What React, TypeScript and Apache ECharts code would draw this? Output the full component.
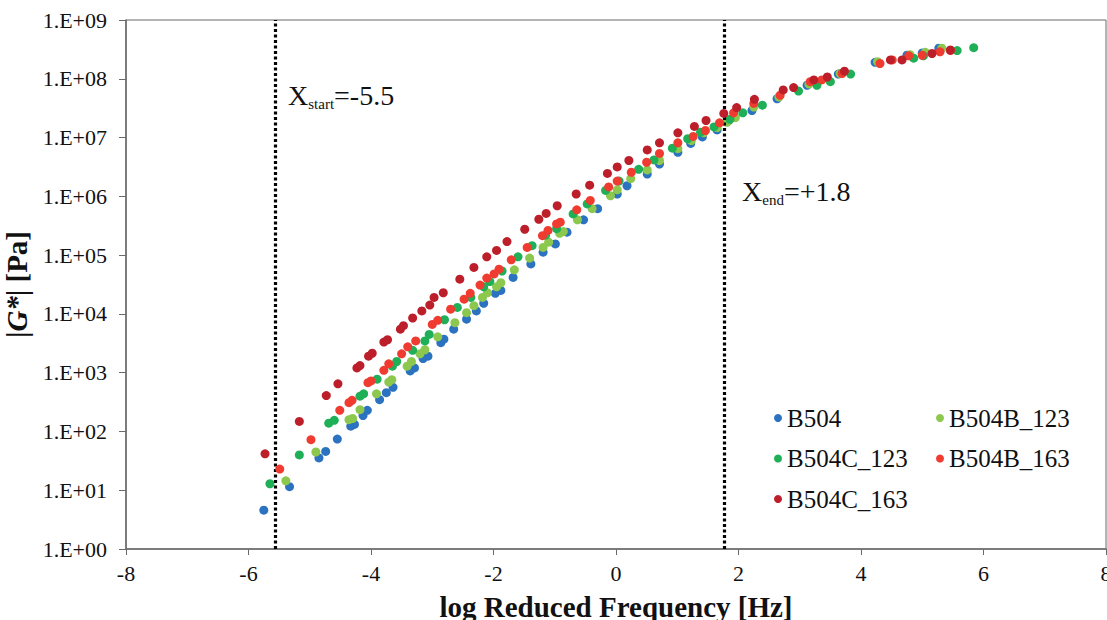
import { useEffect, useRef } from "react";
import * as echarts from "echarts";

// Each point: [log reduced frequency (Hz), log10 of |G*| (Pa)]
const seriesNames = ["B504", "B504B_123", "B504C_123", "B504B_163", "B504C_163"];
const seriesColors = ["#2B72C0", "#8CC84E", "#1FAF57", "#EF3B30", "#BC1F2A"];

const b504 = [
  [-5.75, 0.66], [-5.33, 1.06], [-4.85, 1.55], [-4.74, 1.66], [-4.55, 1.87], [-4.33, 2.09], [-4.27, 2.12],
  [-4.13, 2.27], [-4.06, 2.36], [-3.86, 2.54], [-3.75, 2.66], [-3.64, 2.75], [-3.36, 3.03], [-3.29, 3.08],
  [-3.15, 3.24], [-3.07, 3.28], [-2.86, 3.51], [-2.81, 3.57], [-2.65, 3.74], [-2.44, 3.91], [-2.28, 4.05],
  [-2.16, 4.18], [-1.97, 4.35], [-1.88, 4.4], [-1.68, 4.62], [-1.39, 4.85], [-1.19, 5.05], [-0.99, 5.19],
  [-0.8, 5.39], [-0.53, 5.6], [-0.3, 5.79], [0.02, 6.04], [0.18, 6.18], [0.51, 6.38], [0.71, 6.55],
  [1.01, 6.75], [1.22, 6.9], [1.41, 7.01], [1.65, 7.13], [1.84, 7.29], [2.22, 7.46], [2.63, 7.66],
  [3.12, 7.89], [3.63, 8.08], [4.23, 8.28], [4.75, 8.4], [5.0, 8.44], [5.27, 8.52],
];
const b504B123 = [
  [-5.39, 1.16], [-4.9, 1.65], [-4.36, 2.2], [-4.3, 2.22], [-4.18, 2.37], [-3.91, 2.64], [-3.71, 2.84],
  [-3.66, 2.88], [-3.41, 3.11], [-3.34, 3.19], [-3.2, 3.32], [-3.12, 3.39], [-2.91, 3.61], [-2.63, 3.85],
  [-2.44, 4.02], [-2.32, 4.14], [-2.18, 4.28], [-2.1, 4.36], [-1.95, 4.46], [-1.88, 4.53], [-1.66, 4.75],
  [-1.41, 4.95], [-1.19, 5.13], [-1.1, 5.22], [-0.92, 5.37], [-0.86, 5.4], [-0.63, 5.6], [-0.39, 5.79],
  [-0.09, 6.01], [0.02, 6.11], [0.24, 6.3], [0.51, 6.45], [0.71, 6.61], [1.01, 6.81], [1.23, 6.95],
  [1.43, 7.08], [1.65, 7.17], [1.81, 7.26], [1.95, 7.34], [2.25, 7.52], [2.66, 7.69], [3.15, 7.91],
  [3.66, 8.09], [4.27, 8.29], [4.8, 8.41], [5.05, 8.45], [5.32, 8.52],
];
const b504C123 = [
  [-5.65, 1.11], [-5.17, 1.6], [-4.69, 2.14], [-4.6, 2.19], [-4.18, 2.6], [-4.12, 2.64], [-3.9, 2.89],
  [-3.65, 3.11], [-3.58, 3.19], [-3.32, 3.38], [-3.12, 3.54], [-3.05, 3.65], [-2.8, 3.9], [-2.59, 4.11],
  [-2.37, 4.28], [-2.16, 4.46], [-2.06, 4.55], [-1.86, 4.73], [-1.6, 4.97], [-1.37, 5.16], [-1.15, 5.34],
  [-0.97, 5.45], [-0.7, 5.7], [-0.47, 5.87], [-0.17, 6.1], [0.05, 6.26], [0.37, 6.46], [0.62, 6.62],
  [0.92, 6.82], [1.17, 6.98], [1.38, 7.09], [1.6, 7.18], [1.86, 7.31], [2.07, 7.42], [2.39, 7.55],
  [2.98, 7.79], [3.28, 7.89], [3.5, 7.95], [3.83, 8.08], [4.86, 8.35], [5.02, 8.39], [5.57, 8.48], [5.84, 8.53],
];
const b504B163 = [
  [-5.49, 1.36], [-4.98, 1.86], [-4.51, 2.36], [-4.36, 2.49], [-4.31, 2.53], [-4.05, 2.83], [-4.0, 2.86],
  [-3.79, 3.04], [-3.71, 3.15], [-3.5, 3.32], [-3.4, 3.44], [-3.27, 3.54], [-3.0, 3.82], [-2.91, 3.89],
  [-2.7, 4.08], [-2.48, 4.25], [-2.38, 4.35], [-2.22, 4.49], [-2.11, 4.61], [-1.99, 4.68], [-1.91, 4.76],
  [-1.71, 4.92], [-1.45, 5.13], [-1.2, 5.33], [-1.11, 5.42], [-0.97, 5.53], [-0.91, 5.56], [-0.64, 5.77],
  [-0.42, 5.93], [-0.12, 6.16], [0.02, 6.26], [0.25, 6.41], [0.5, 6.58], [0.71, 6.73], [1.01, 6.91],
  [1.26, 7.02], [1.46, 7.12], [1.69, 7.25], [1.92, 7.42], [2.25, 7.58], [2.68, 7.72], [3.17, 7.95],
  [3.36, 7.98], [3.69, 8.09], [4.31, 8.26], [4.51, 8.32], [4.78, 8.39], [5.0, 8.4], [5.29, 8.46], [5.46, 8.48],
];
const b504C163 = [
  [-5.73, 1.62], [-5.17, 2.17], [-4.73, 2.61], [-4.54, 2.81], [-4.23, 3.08], [-4.18, 3.12], [-4.04, 3.28],
  [-3.98, 3.33], [-3.79, 3.52], [-3.73, 3.56], [-3.52, 3.74], [-3.47, 3.8], [-3.32, 3.93], [-3.17, 4.05],
  [-3.04, 4.15], [-2.97, 4.28], [-2.82, 4.36], [-2.55, 4.59], [-2.32, 4.79], [-2.11, 4.97], [-1.95, 5.08],
  [-1.78, 5.23], [-1.49, 5.44], [-1.26, 5.61], [-1.14, 5.71], [-0.96, 5.84], [-0.65, 6.04], [-0.43, 6.19],
  [-0.14, 6.39], [0.02, 6.5], [0.21, 6.61], [0.51, 6.79], [0.71, 6.91], [1.01, 7.08], [1.28, 7.19],
  [1.47, 7.29], [1.76, 7.41], [1.97, 7.51], [2.26, 7.65], [2.73, 7.81], [2.9, 7.85], [3.23, 7.98],
  [3.45, 8.03], [3.73, 8.13], [4.48, 8.32], [4.67, 8.32], [5.16, 8.43], [5.46, 8.49],
];
const seriesData = [b504, b504B123, b504C123, b504B163, b504C163];

const xMin = -8;
const xMax = 8;
const xStep = 2;
const yMinExp = 0;
const yMaxExp = 9;
const xStartLine = -5.57;
const xEndLine = 1.77;

const FONT = "'Liberation Serif', 'Times New Roman', serif";

export default function App() {
  const ref = useRef<HTMLDivElement>(null);
  useEffect(() => {
    if (!ref.current) return;
    const chart = echarts.init(ref.current, undefined, { renderer: "svg" });
    const axisColor = "#6a6a6a";
    const series: any[] = seriesNames.map((name, i) => ({
      name,
      type: "scatter",
      symbol: "circle",
      symbolSize: 9,
      itemStyle: { color: seriesColors[i], opacity: 1 },
      data: seriesData[i].map(([x, e]) => [x, Math.pow(10, e)]),
      z: 2 + i,
    }));
    series[0].markLine = {
      silent: true,
      symbol: ["none", "none"],
      label: { show: false },
      lineStyle: { color: "#000", type: [3, 2.5], width: 3.2 },
      data: [{ xAxis: xStartLine }, { xAxis: xEndLine }],
    };
    const legendText = { fontFamily: FONT, fontSize: 25, color: "#111", lineHeight: 28, padding: [0, 0, 0, 0] };
    chart.setOption({
      animation: false,
      backgroundColor: "#fff",
      textStyle: { fontFamily: FONT },
      grid: {
        left: 126,
        right: 1,
        top: 20,
        bottom: 71,
        show: true,
        borderColor: axisColor,
        borderWidth: 1,
        containLabel: false,
        outerBoundsMode: "none",
      },
      legend: [
        {
          data: [seriesNames[0], seriesNames[2], seriesNames[4]],
          orient: "vertical",
          left: 769,
          top: 399,
          itemWidth: 8,
          itemHeight: 8,
          itemGap: 12.5,
          icon: "circle",
          textStyle: legendText,
        },
        {
          data: [seriesNames[1], seriesNames[3]],
          orient: "vertical",
          left: 931,
          top: 399,
          itemWidth: 8,
          itemHeight: 8,
          itemGap: 12.5,
          icon: "circle",
          textStyle: legendText,
        },
      ],
      xAxis: {
        type: "value",
        min: xMin,
        max: xMax,
        interval: xStep,
        name: "log Reduced Frequency [Hz]",
        nameLocation: "middle",
        nameGap: 43,
        nameTextStyle: { fontFamily: FONT, fontSize: 29, fontWeight: "bold", color: "#111" },
        axisLine: { show: true, onZero: false, lineStyle: { color: axisColor, width: 1.5 } },
        axisTick: { show: true, inside: false, length: 6, lineStyle: { color: axisColor } },
        axisLabel: { fontFamily: FONT, fontSize: 22, color: "#111", margin: 13 },
        splitLine: { show: false },
      },
      yAxis: {
        type: "log",
        logBase: 10,
        min: Math.pow(10, yMinExp),
        max: Math.pow(10, yMaxExp),
        interval: 1,
        name: "|{i|G*}| [Pa]",
        nameLocation: "middle",
        nameGap: 86,
        nameRotate: 90,
        nameTextStyle: {
          fontFamily: FONT,
          fontSize: 29,
          fontWeight: "bold",
          color: "#111",
          rich: { i: { fontFamily: FONT, fontSize: 29, fontWeight: "bold", fontStyle: "italic", color: "#111" } },
        },
        axisLine: { show: true, onZero: false, lineStyle: { color: axisColor, width: 1.5 } },
        axisTick: { show: true, inside: false, length: 7, lineStyle: { color: axisColor } },
        axisLabel: {
          fontFamily: FONT,
          fontSize: 22,
          color: "#111",
          margin: 19,
          formatter: (v: number) => {
            const e = Math.round(Math.log10(v));
            return "1.E+" + String(e).padStart(2, "0");
          },
        },
        splitLine: { show: false },
        minorTick: { show: false },
      },
      graphic: [
        {
          type: "text",
          left: 288,
          top: 80,
          style: {
            text: "{m|X}{s|start}{m|=-5.5}",
            fill: "#111",
            rich: {
              m: { fontFamily: FONT, fontSize: 28, lineHeight: 32, fill: "#111" },
              s: { fontFamily: FONT, fontSize: 15, lineHeight: 32, padding: [16, 0, 0, 0], fill: "#111" },
            },
          },
        },
        {
          type: "text",
          left: 742,
          top: 176,
          style: {
            text: "{m|X}{s|end}{m|=+1.8}",
            fill: "#111",
            rich: {
              m: { fontFamily: FONT, fontSize: 28, lineHeight: 32, fill: "#111" },
              s: { fontFamily: FONT, fontSize: 15, lineHeight: 32, padding: [16, 0, 0, 0], fill: "#111" },
            },
          },
        },
      ],
      series,
    });
    return () => chart.dispose();
  }, []);
  return (
    <div
      ref={ref}
      style={{ position: "absolute", left: 0, top: 0, width: 1107, height: 620, background: "#fff" }}
    />
  );
}
